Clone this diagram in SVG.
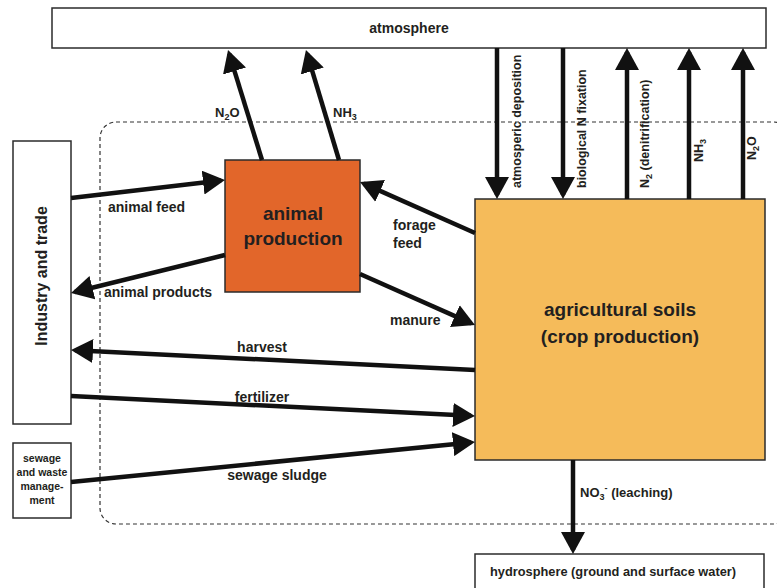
<svg xmlns="http://www.w3.org/2000/svg" width="777" height="588" viewBox="0 0 777 588">
<defs>
<style>
.box{stroke:#2b2b2b;stroke-width:1.5}
.w{fill:#ffffff}
.t{font-family:"Liberation Sans",Arial,sans-serif;font-weight:bold;fill:#231f20}
.lbl{font-size:14px}
.vl{font-size:12.5px}
.c{stroke:#111;stroke-width:4.5;fill:none;marker-end:url(#ah)}
.dash{fill:none;stroke:#333;stroke-width:1.2;stroke-dasharray:4 3}
</style>
<marker id="ah" viewBox="0 0 22 24" refX="18" refY="12" markerWidth="22" markerHeight="24" markerUnits="userSpaceOnUse" orient="auto">
<path d="M0,0 L22,12 L0,24 z" fill="#111"/>
</marker>
</defs>
<rect width="777" height="588" fill="#ffffff"/>
<rect class="dash" x="100" y="122" width="690" height="402" rx="16"/>

<g id="atmosphere">
<rect class="box w" x="52" y="8" width="714" height="40"/>
<text class="t" x="409" y="33" font-size="14" text-anchor="middle">atmosphere</text>
</g>
<g id="industry">
<rect class="box w" x="13" y="141" width="58" height="283"/>
<text class="t" transform="translate(47,276) rotate(-90)" font-size="16" text-anchor="middle">Industry and trade</text>
</g>
<g id="sewage">
<rect class="box w" x="13" y="443" width="58" height="75"/>
<text class="t" font-size="10.5" text-anchor="middle"><tspan x="42" y="462">sewage</tspan><tspan x="42" y="476">and waste</tspan><tspan x="42" y="490">manage-</tspan><tspan x="42" y="504">ment</tspan></text>
</g>
<g id="animal">
<rect class="box" x="225" y="160" width="135" height="132" fill="#e2662a"/>
<text class="t" font-size="19" text-anchor="middle"><tspan x="293" y="220">animal</tspan><tspan x="293" y="245">production</tspan></text>
</g>
<g id="soils">
<rect class="box" x="475" y="199" width="290" height="261" fill="#f5bb5a"/>
<text class="t" font-size="19" text-anchor="middle"><tspan x="620" y="316">agricultural soils</tspan><tspan x="620" y="343">(crop production)</tspan></text>
</g>
<g id="hydrosphere">
<rect class="box w" x="475" y="554" width="289" height="50"/>
<text class="t" x="490" y="576" font-size="12.8">hydrosphere (ground and surface water)</text>
</g>

<g id="connectors">
<line class="c" x1="71" y1="198" x2="221.0" y2="180.5"/>
<line class="c" x1="225" y1="255" x2="74.9" y2="292.0"/>
<line class="c" x1="475" y1="233" x2="363.7" y2="183.6"/>
<line class="c" x1="360" y1="274" x2="471.3" y2="323.4"/>
<line class="c" x1="475" y1="370" x2="75.0" y2="350.2"/>
<line class="c" x1="71" y1="396" x2="471.0" y2="415.8"/>
<line class="c" x1="71" y1="482" x2="471.0" y2="442.4"/>
<line class="c" x1="262" y1="160" x2="229.2" y2="53.8"/>
<line class="c" x1="339" y1="160" x2="307.1" y2="53.8"/>
<line class="c" x1="497" y1="48" x2="497" y2="195"/>
<line class="c" x1="563" y1="48" x2="563" y2="195"/>
<line class="c" x1="627" y1="199" x2="627" y2="52"/>
<line class="c" x1="689" y1="199" x2="689" y2="52"/>
<line class="c" x1="743" y1="199" x2="743" y2="52"/>
<line class="c" x1="573" y1="460" x2="573" y2="550"/>
</g>

<g id="labels">
<text class="t lbl" x="108" y="212">animal feed</text>
<text class="t lbl" x="104" y="297">animal products</text>
<text class="t lbl"><tspan x="393" y="230">forage</tspan><tspan x="393" y="248">feed</tspan></text>
<text class="t lbl" x="390" y="325">manure</text>
<text class="t lbl" x="262" y="352" text-anchor="middle">harvest</text>
<text class="t lbl" x="262" y="402" text-anchor="middle">fertilizer</text>
<text class="t lbl" x="277" y="480" text-anchor="middle">sewage sludge</text>
<text class="t" x="215" y="117" font-size="13">N<tspan font-size="9" dy="3">2</tspan><tspan dy="-3">O</tspan></text>
<text class="t" x="333" y="117" font-size="13">NH<tspan font-size="9" dy="3">3</tspan></text>
<text class="t" x="580" y="497" font-size="13">NO<tspan font-size="9" dy="3">3</tspan><tspan font-size="9" dy="-9">-</tspan><tspan dy="6"> (leaching)</tspan></text>
<text class="t vl" transform="translate(521,188) rotate(-90)">atmosperic deposition</text>
<text class="t vl" transform="translate(586,188) rotate(-90)">biological N fixation</text>
<text class="t vl" transform="translate(649,188) rotate(-90)">N<tspan font-size="9" dy="3">2</tspan><tspan dy="-3"> (denitrification)</tspan></text>
<text class="t vl" transform="translate(703,162) rotate(-90)">NH<tspan font-size="9" dy="3">3</tspan></text>
<text class="t vl" transform="translate(756,160) rotate(-90)">N<tspan font-size="9" dy="3">2</tspan><tspan dy="-3">O</tspan></text>
</g>
</svg>
